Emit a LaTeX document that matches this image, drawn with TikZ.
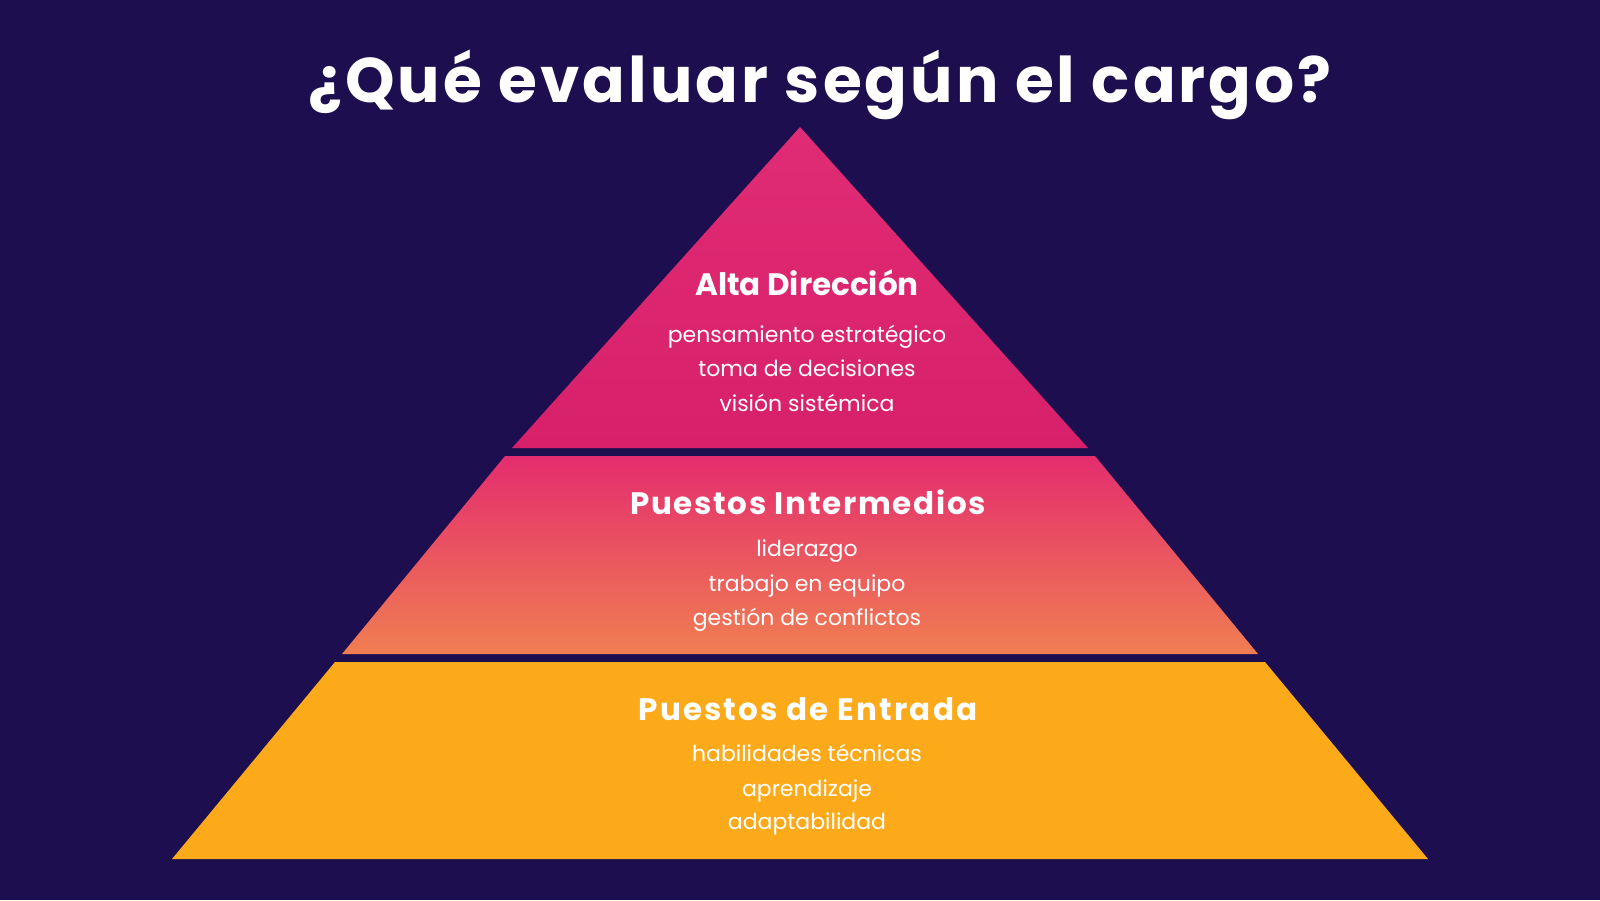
\documentclass[tikz,border=0pt]{standalone}
\usepackage{fontspec}
\setmainfont{Poppins}
\definecolor{bgnavy}{HTML}{1D0F4F}
\definecolor{toppink}{HTML}{DE216D}
\definecolor{midtop}{HTML}{E42D6E}
\definecolor{midbot}{HTML}{F07E52}
\definecolor{botorange}{HTML}{FCAA1A}
\begin{document}
\begin{tikzpicture}[x=1pt,y=-1pt,
  titletext/.style={text=white,font=\fontsize{63}{70}\selectfont\bfseries\addfontfeatures{LetterSpace=4.8},anchor=base,inner sep=0pt},
  headtext/.style={text=white,font=\fontsize{31}{36}\selectfont\bfseries,anchor=base,inner sep=0pt},
  itemtext/.style={text=white,font=\fontsize{22}{26}\selectfont,anchor=base,inner sep=0pt}]
\fill[bgnavy] (0,0) rectangle (1600,900);
\useasboundingbox (0,0) rectangle (1600,900);
% tiers
\shade[top color=toppink!95!white, bottom color=toppink!97!black] (800,127) -- (1088,448) -- (512,448) -- cycle;
\shade[top color=midtop, bottom color=midbot] (505,456) -- (1095,456) -- (1258,654) -- (342,654) -- cycle;
\fill[botorange] (335,662) -- (1265,662) -- (1428,859) -- (172,859) -- cycle;
% title
\node[titletext] (title) at (820,102) {¿Qué evaluar según el cargo?};
% top tier
\node[headtext] (h1) at (807,295) {Alta Dirección};
\node[itemtext] (a1) at (807,342) {pensamiento estratégico};
\node[itemtext] (a2) at (807,376) {toma de decisiones};
\node[itemtext] (a3) at (807,411) {visión sistémica};
% middle tier
\node[headtext,font=\fontsize{31}{36}\selectfont\bfseries\addfontfeatures{LetterSpace=5.5}] (h2) at (808,514) {Puestos Intermedios};
\node[itemtext] (b1) at (807,556) {liderazgo};
\node[itemtext] (b2) at (807,591) {trabajo en equipo};
\node[itemtext] (b3) at (807,625) {gestión de conflictos};
% bottom tier
\node[headtext,font=\fontsize{31}{36}\selectfont\bfseries\addfontfeatures{LetterSpace=7}] (h3) at (808,720) {Puestos de Entrada};
\node[itemtext] (c1) at (807,761) {habilidades técnicas};
\node[itemtext] (c2) at (807,796) {aprendizaje};
\node[itemtext] (c3) at (807,829) {adaptabilidad};
\end{tikzpicture}
\end{document}
